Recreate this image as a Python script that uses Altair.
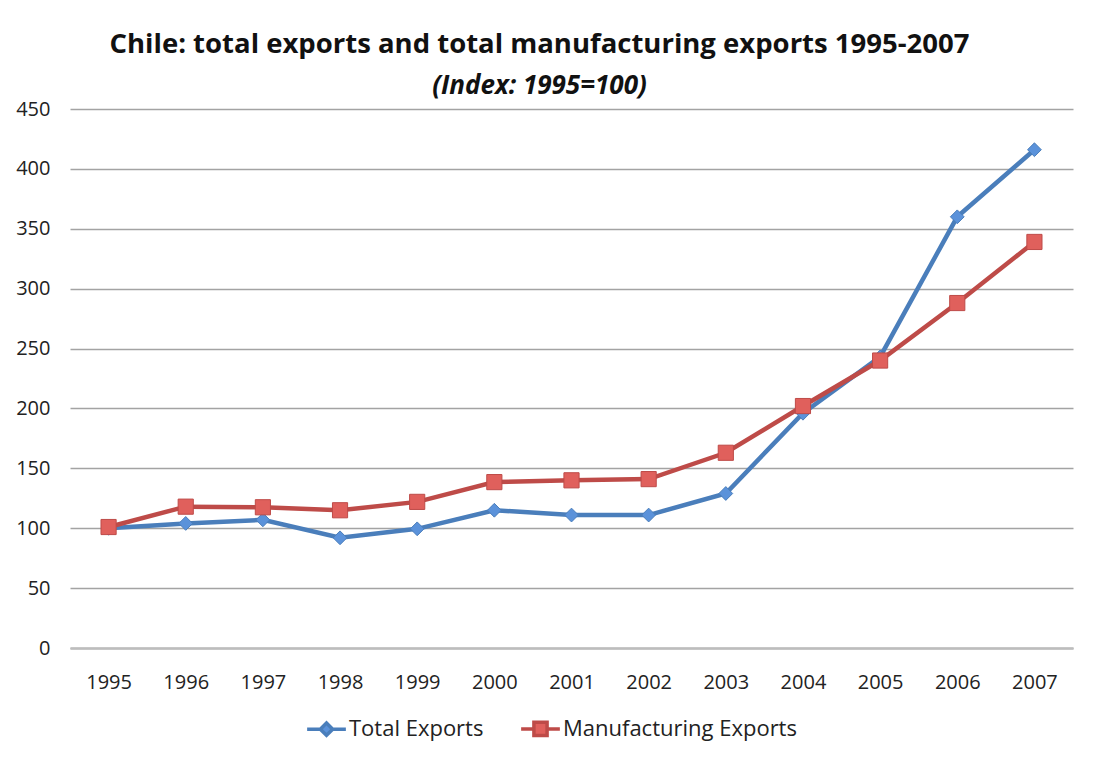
import altair as alt
import pandas as pd

years = ["1995", "1996", "1997", "1998", "1999", "2000", "2001",
         "2002", "2003", "2004", "2005", "2006", "2007"]
total_exports = [100, 104, 107, 92, 99.5, 115, 111, 111, 129, 196, 243, 360, 416]
manuf_exports = [101, 118, 117.5, 115, 122, 138.5, 140, 141, 163, 202, 240, 288, 339]
series_names = ["Total Exports", "Manufacturing Exports"]
y_ticks = [0, 50, 100, 150, 200, 250, 300, 350, 400, 450]

rows = []
for yr, t, m in zip(years, total_exports, manuf_exports):
    rows.append({"year": yr, "series": series_names[0], "value": t})
    rows.append({"year": yr, "series": series_names[1], "value": m})
df = pd.DataFrame(rows)

BLUE = "#4A7EBB"
BLUE_FILL = "#5B92DA"
RED = "#BE4B48"
RED_FILL = "#E0605C"
FONT = "Open Sans"

x_enc = alt.X("year:N", sort=years, title=None,
              scale=alt.Scale(type="point", padding=0.5),
              axis=alt.Axis(labelAngle=0, labelFontSize=20, labelColor="#222",
                            labelPadding=24, ticks=False, domain=True,
                            domainColor="#BDBDBD", domainWidth=2.5, grid=False,
                            labelFont=FONT))
y_enc = alt.Y("value:Q", title=None,
              scale=alt.Scale(domain=[0, 450], nice=False),
              axis=alt.Axis(values=y_ticks, labelFontSize=20, labelColor="#222",
                            labelPadding=20, ticks=False, domain=False,
                            grid=True, gridColor="#A3A3A3", gridWidth=1.3,
                            labelFont=FONT))

# legend symbols: a line stub with the marker in the middle
legend_paths = [
    "M-1,0L-0.32,0M0.32,0L1,0M-0.32,0L0,-0.32L0.32,0L0,0.32Z",
    "M-1,0L-0.34,0M0.34,0L1,0M-0.34,-0.34L0.34,-0.34L0.34,0.34L-0.34,0.34Z",
]

lines = alt.Chart(df).mark_line(strokeWidth=4.5).encode(
    x=x_enc,
    y=y_enc,
    color=alt.Color("series:N",
                    scale=alt.Scale(domain=series_names, range=[BLUE, RED]),
                    legend=alt.Legend(title=None, orient="top",
                                      direction="horizontal",
                                      labelFontSize=1, symbolSize=1,
                                      labelOpacity=0, symbolOpacity=0,
                                      offset=0, padding=0)),
)

diamonds = alt.Chart(df).transform_filter(
    alt.datum.series == series_names[0]
).mark_point(shape="diamond", filled=True, size=190, fill=BLUE_FILL,
             stroke=BLUE, strokeWidth=1, opacity=1).encode(x=x_enc, y=y_enc)

squares = alt.Chart(df).transform_filter(
    alt.datum.series == series_names[1]
).mark_point(shape="square", filled=True, size=230, fill=RED_FILL,
             stroke=RED, strokeWidth=1, opacity=1).encode(x=x_enc, y=y_enc)

# legend-only layer: rows filtered out, scales carry explicit domains
legend_layer = alt.Chart(df).transform_filter(
    alt.datum.value < -1
).mark_point(filled=True, strokeWidth=3.5, opacity=1).encode(
    x=x_enc,
    y=y_enc,
    fill=alt.Fill("series:N",
                  scale=alt.Scale(domain=series_names, range=[BLUE_FILL, RED_FILL]),
                  legend=None),
    stroke=alt.Stroke("series:N",
                      scale=alt.Scale(domain=series_names, range=[BLUE, RED]),
                      legend=None),
    shape=alt.Shape("series:N",
                    scale=alt.Scale(domain=series_names, range=legend_paths),
                    legend=alt.Legend(
                        title=None, orient="none", legendX=235, legendY=598,
                        direction="horizontal",
                        labelFontSize=22, labelFont=FONT, labelColor="#222",
                        labelLimit=400,
                        symbolSize=1500, symbolStrokeWidth=3.5,
                        columnPadding=30, labelOffset=1)),
)

chart = alt.layer(lines, diamonds, squares, legend_layer).properties(
    width=1003,
    height=539,
    background="white",
    title=alt.TitleParams(
        text="Chile: total exports and total manufacturing exports 1995-2007",
        subtitle="(Index: 1995=100)",
        fontSize=27.5, fontWeight="bold", font=FONT, color="#111",
        subtitleFont=FONT, subtitleFontSize=26, subtitleFontStyle="italic",
        subtitleFontWeight="bold", subtitleColor="#111", subtitlePadding=15,
        anchor="middle", frame="group", dx=-32, offset=0,
    ),
    padding={"left": 7, "top": 22, "right": 14, "bottom": 58},
).configure_view(stroke=None)

chart.save("out.html", embed_options={"renderer": "svg", "actions": False})
